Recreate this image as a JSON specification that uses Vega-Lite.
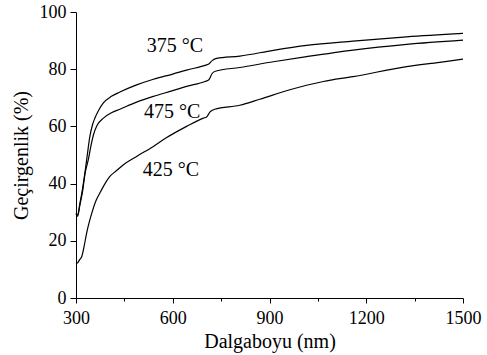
{
  "$schema": "https://vega.github.io/schema/vega-lite/v6.json",
  "width": 387,
  "height": 286,
  "autosize": "none",
  "padding": {"left": 76, "top": 12, "right": 24, "bottom": 57},
  "background": "white",
  "config": {
    "view": {"stroke": null},
    "font": "'Liberation Serif', 'Times New Roman', serif",
    "axis": {
      "grid": false,
      "domainColor": "#000000",
      "domainWidth": 1,
      "tickColor": "#000000",
      "tickWidth": 1,
      "labelColor": "#000000",
      "titleColor": "#000000",
      "labelFont": "'Liberation Serif', 'Times New Roman', serif",
      "titleFont": "'Liberation Serif', 'Times New Roman', serif",
      "labelFontSize": 18,
      "titleFontSize": 20,
      "titleFontWeight": "normal"
    }
  },
  "datasets": {
    "curves": [
      {"series": "375", "nm": 300, "T": 29.5}, {"series": "375", "nm": 305, "T": 29.0}, {"series": "375", "nm": 312, "T": 33.0}, {"series": "375", "nm": 320, "T": 38.0}, {"series": "375", "nm": 328, "T": 44.0}, {"series": "375", "nm": 335, "T": 50.0}, {"series": "375", "nm": 343, "T": 56.5}, {"series": "375", "nm": 351, "T": 60.5}, {"series": "375", "nm": 359, "T": 63.0}, {"series": "375", "nm": 372, "T": 66.0}, {"series": "375", "nm": 385, "T": 68.2}, {"series": "375", "nm": 410, "T": 70.5}, {"series": "375", "nm": 436, "T": 72.0}, {"series": "375", "nm": 488, "T": 74.5}, {"series": "375", "nm": 540, "T": 76.5}, {"series": "375", "nm": 600, "T": 78.3}, {"series": "375", "nm": 643, "T": 79.7}, {"series": "375", "nm": 705, "T": 81.5}, {"series": "375", "nm": 712, "T": 81.8}, {"series": "375", "nm": 722, "T": 83.0}, {"series": "375", "nm": 736, "T": 83.8}, {"series": "375", "nm": 808, "T": 84.6}, {"series": "375", "nm": 912, "T": 86.6}, {"series": "375", "nm": 1015, "T": 88.3}, {"series": "375", "nm": 1159, "T": 89.8}, {"series": "375", "nm": 1325, "T": 91.3}, {"series": "375", "nm": 1500, "T": 92.5},
      {"series": "475", "nm": 300, "T": 29.5}, {"series": "475", "nm": 305, "T": 28.5}, {"series": "475", "nm": 312, "T": 32.5}, {"series": "475", "nm": 320, "T": 37.0}, {"series": "475", "nm": 328, "T": 43.5}, {"series": "475", "nm": 338, "T": 48.3}, {"series": "475", "nm": 346, "T": 53.0}, {"series": "475", "nm": 354, "T": 57.0}, {"series": "475", "nm": 365, "T": 60.3}, {"series": "475", "nm": 385, "T": 62.9}, {"series": "475", "nm": 410, "T": 64.8}, {"series": "475", "nm": 436, "T": 66.0}, {"series": "475", "nm": 488, "T": 68.5}, {"series": "475", "nm": 540, "T": 70.5}, {"series": "475", "nm": 600, "T": 72.5}, {"series": "475", "nm": 643, "T": 74.0}, {"series": "475", "nm": 700, "T": 75.7}, {"series": "475", "nm": 712, "T": 76.3}, {"series": "475", "nm": 722, "T": 78.5}, {"series": "475", "nm": 732, "T": 79.3}, {"series": "475", "nm": 808, "T": 80.6}, {"series": "475", "nm": 912, "T": 82.6}, {"series": "475", "nm": 1015, "T": 84.4}, {"series": "475", "nm": 1159, "T": 86.7}, {"series": "475", "nm": 1325, "T": 88.7}, {"series": "475", "nm": 1500, "T": 90.2},
      {"series": "425", "nm": 300, "T": 12.0}, {"series": "425", "nm": 305, "T": 12.3}, {"series": "425", "nm": 312, "T": 13.5}, {"series": "425", "nm": 318, "T": 14.5}, {"series": "425", "nm": 325, "T": 18.0}, {"series": "425", "nm": 333, "T": 22.7}, {"series": "425", "nm": 341, "T": 26.5}, {"series": "425", "nm": 349, "T": 29.7}, {"series": "425", "nm": 360, "T": 33.5}, {"series": "425", "nm": 374, "T": 36.7}, {"series": "425", "nm": 390, "T": 40.0}, {"series": "425", "nm": 405, "T": 42.5}, {"series": "425", "nm": 425, "T": 44.5}, {"series": "425", "nm": 447, "T": 46.6}, {"series": "425", "nm": 488, "T": 49.5}, {"series": "425", "nm": 540, "T": 53.0}, {"series": "425", "nm": 580, "T": 56.0}, {"series": "425", "nm": 643, "T": 60.0}, {"series": "425", "nm": 695, "T": 62.9}, {"series": "425", "nm": 705, "T": 63.3}, {"series": "425", "nm": 715, "T": 65.0}, {"series": "425", "nm": 730, "T": 66.0}, {"series": "425", "nm": 808, "T": 67.4}, {"series": "425", "nm": 870, "T": 69.5}, {"series": "425", "nm": 963, "T": 72.8}, {"series": "425", "nm": 1067, "T": 75.7}, {"series": "425", "nm": 1159, "T": 77.4}, {"series": "425", "nm": 1325, "T": 80.9}, {"series": "425", "nm": 1428, "T": 82.4}, {"series": "425", "nm": 1500, "T": 83.5}
    ],
    "labels": [
      {"nm": 607, "T": 88.0, "label": "375 °C"},
      {"nm": 598, "T": 65.1, "label": "475 °C"},
      {"nm": 594, "T": 44.8, "label": "425 °C"}
    ]
  },
  "layer": [
    {
      "data": {"name": "curves"},
      "mark": {"type": "line", "color": "#000000", "strokeWidth": 1.2, "interpolate": "monotone"},
      "encoding": {
        "x": {
          "field": "nm", "type": "quantitative",
          "scale": {"domain": [300, 1500], "nice": false, "zero": false},
          "axis": {
            "title": "Dalgaboyu (nm)",
            "format": "d",
            "values": [300, 450, 600, 750, 900, 1050, 1200, 1350, 1500],
            "labelExpr": "datum.value % 300 === 0 ? datum.label : ''",
            "tickSize": {"condition": {"test": "datum.value % 300 === 0", "value": 5}, "value": 3},
            "labelPadding": 6,
            "titlePadding": 4,
            "labelFlush": false,
            "labelOverlap": false
          }
        },
        "y": {
          "field": "T", "type": "quantitative",
          "scale": {"domain": [0, 100], "nice": false},
          "axis": {
            "title": "Geçirgenlik (%)",
            "format": "d",
            "values": [0, 10, 20, 30, 40, 50, 60, 70, 80, 90, 100],
            "labelExpr": "datum.value % 20 === 0 ? datum.label : ''",
            "tickSize": {"condition": {"test": "datum.value % 20 === 0", "value": 6}, "value": 3},
            "labelPadding": 4,
            "titlePadding": 8,
            "labelFlush": false,
            "labelOverlap": false
          }
        },
        "detail": {"field": "series", "type": "nominal"}
      }
    },
    {
      "data": {"name": "labels"},
      "mark": {"type": "text", "font": "'Liberation Serif', 'Times New Roman', serif", "fontSize": 20, "color": "#000000", "align": "center", "baseline": "middle"},
      "encoding": {
        "x": {"field": "nm", "type": "quantitative"},
        "y": {"field": "T", "type": "quantitative"},
        "text": {"field": "label", "type": "nominal"}
      }
    }
  ]
}
